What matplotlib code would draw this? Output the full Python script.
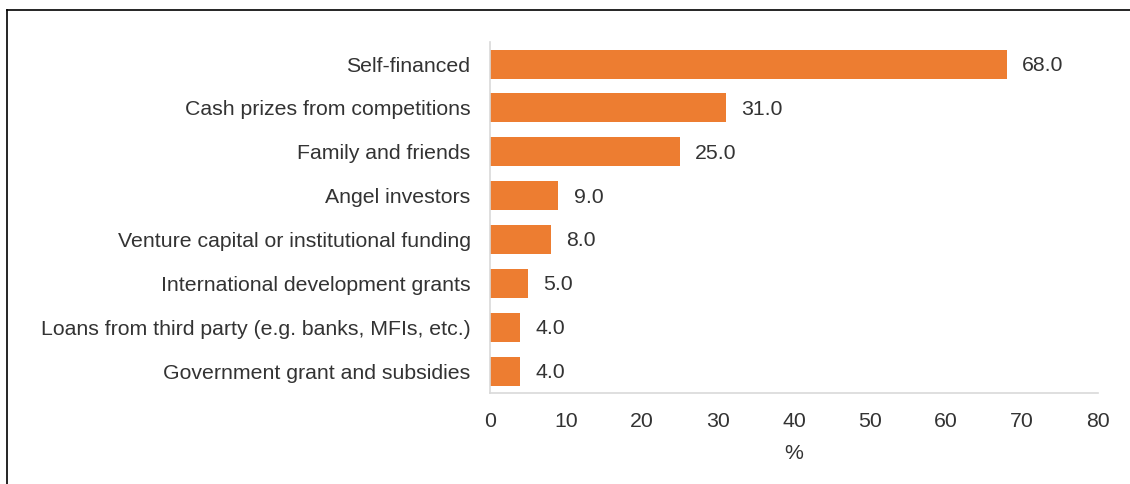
import matplotlib
matplotlib.use('Agg')
from matplotlib import pyplot as plt
from matplotlib.lines import Line2D

plt.rcParams['font.family'] = ['Liberation Sans', 'DejaVu Sans']

categories = ['Self-financed',
              'Cash prizes from competitions',
              'Family and friends',
              'Angel investors',
              'Venture capital or institutional funding',
              'International development grants',
              'Loans from third party (e.g. banks, MFIs, etc.)',
              'Government grant and subsidies']
values = [68.0, 31.0, 25.0, 9.0, 8.0, 5.0, 4.0, 4.0]
xticks = [0, 10, 20, 30, 40, 50, 60, 70, 80]

bar_color = '#ED7D31'
text_color = '#333333'
grid_color = '#D9D9D9'
fs = 15.3

fig = plt.figure(figsize=(11.3, 4.84), dpi=100)
ax = fig.add_axes([0.4336, 0.188, 0.538, 0.725])

pos = list(range(len(categories)))
ax.barh(pos, values, height=0.66, color=bar_color)
ax.set_ylim(len(categories) - 0.5, -0.5)
ax.set_xlim(0, 80)
ax.set_yticks(pos)
ax.set_yticklabels(categories)
ax.set_xticks(xticks)
ax.set_xticklabels([str(t) for t in xticks])

for p, v in zip(pos, values):
    ax.annotate(f'{v:.1f}', (v, p), xytext=(11, -1), textcoords='offset points',
                va='center', ha='left', fontsize=fs, color=text_color)

for s in ['top', 'right']:
    ax.spines[s].set_visible(False)
for s in ['left', 'bottom']:
    ax.spines[s].set_color(grid_color)
    ax.spines[s].set_linewidth(1.2)

ax.tick_params(axis='y', length=0, pad=14, labelsize=fs, labelcolor=text_color)
ax.tick_params(axis='x', length=0, pad=14, labelsize=fs, labelcolor=text_color)
ax.set_xlabel('%', fontsize=fs, color=text_color, labelpad=9)

# frame lines on top and left (chart was cropped from a box)
fig.add_artist(Line2D([7 / 1130, 1], [1 - 10 / 484, 1 - 10 / 484], color='black', lw=1.2))
fig.add_artist(Line2D([7 / 1130, 7 / 1130], [0, 1 - 10 / 484], color='black', lw=1.2))

fig.savefig('out.png', dpi=100)
